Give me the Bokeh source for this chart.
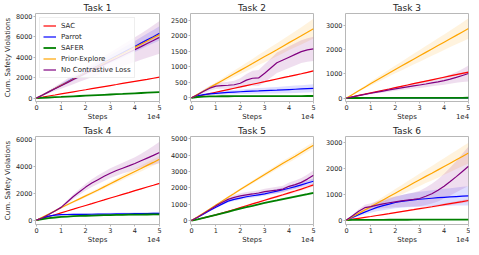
from bokeh.plotting import figure
from bokeh.layouts import row, column
from bokeh.models import FixedTicker, Legend, LegendItem, LinearAxis
from bokeh.embed import file_html
from bokeh.resources import INLINE

STEPS = [0, 2500, 5000, 7500, 10000, 12500, 15000, 17500, 20000, 22500, 25000,
         27500, 30000, 32500, 35000, 37500, 40000, 42500, 45000, 47500, 50000]
SERIES = ["SAC", "Parrot", "SAFER", "Prior-Explore", "No Contrastive Loss"]
COLORS = ["red", "blue", "green", "orange", "purple"]
TITLES = ["Task 1", "Task 2", "Task 3", "Task 4", "Task 5", "Task 6"]
X_TICKS = [0, 10000, 20000, 30000, 40000, 50000]
X_TICK_LABELS = ["0", "1", "2", "3", "4", "5"]
X_LABEL = "Steps"
X_OFFSET_TEXT = "1e4"
Y_LABEL = "Cum. Safety Violations"
Y_TICKS = [[0, 2000, 4000, 6000, 8000],
           [0, 500, 1000, 1500, 2000, 2500],
           [0, 1000, 2000, 3000],
           [0, 2000, 4000, 6000],
           [0, 1000, 2000, 3000, 4000, 5000],
           [0, 1000, 2000, 3000]]
Y_RANGES = [(-330, 8250), (-120, 2720), (-140, 3480), (-320, 6200), (-240, 5150), (-170, 3230)]

# ---- Task 1 ----
t1_sac = [0, 100, 205, 305, 410, 510, 612, 715, 815, 920, 1020, 1122, 1225, 1325, 1430, 1530, 1632, 1735, 1835, 1940, 2040]
t1_parrot = [0, 300, 620, 940, 1260, 1580, 1900, 2210, 2530, 2840, 3150, 3470, 3790, 4100, 4410, 4730, 5040, 5360, 5680, 5990, 6310]
t1_safer = [0, 30, 60, 90, 118, 148, 177, 206, 235, 265, 294, 322, 352, 381, 410, 440, 470, 500, 530, 560, 590]
t1_prior = [0, 310, 620, 930, 1240, 1550, 1860, 2170, 2480, 2790, 3100, 3410, 3720, 4030, 4330, 4640, 4950, 5260, 5570, 5880, 6190]
t1_nocl = [0, 300, 610, 910, 1210, 1510, 1810, 2110, 2410, 2700, 3000, 3290, 3580, 3870, 4150, 4440, 4730, 5020, 5320, 5620, 5920]
t1_sac_sd = [0, 5, 8, 10, 13, 15, 18, 20, 23, 25, 28, 30, 33, 35, 38, 40, 43, 45, 48, 50, 55]
t1_parrot_sd = [0, 30, 60, 95, 130, 160, 195, 230, 260, 295, 330, 365, 400, 430, 465, 500, 540, 575, 610, 650, 700]
t1_safer_sd = [0, 3, 5, 7, 9, 11, 13, 15, 17, 19, 21, 23, 25, 27, 29, 31, 33, 35, 37, 39, 40]
t1_prior_sd = [0, 12, 25, 37, 50, 62, 75, 87, 100, 112, 125, 137, 150, 162, 175, 187, 200, 212, 225, 237, 250]
t1_nocl_sd = [0, 70, 150, 220, 300, 370, 450, 520, 600, 670, 750, 820, 900, 970, 1050, 1120, 1200, 1280, 1380, 1480, 1600]

# ---- Task 2 ----
t2_sac = [0, 45, 90, 135, 178, 222, 265, 308, 350, 393, 436, 478, 520, 563, 606, 648, 690, 733, 776, 820, 870]
t2_parrot = [0, 60, 100, 125, 145, 160, 175, 185, 195, 205, 215, 222, 230, 238, 245, 255, 265, 275, 285, 295, 305]
t2_safer = [0, 25, 38, 44, 47, 49, 50, 51, 52, 52, 53, 53, 54, 54, 55, 55, 55, 56, 56, 57, 57]
t2_prior = [0, 110, 220, 330, 440, 550, 660, 775, 885, 995, 1105, 1220, 1330, 1440, 1550, 1665, 1780, 1890, 2000, 2115, 2230]
t2_nocl = [0, 100, 210, 310, 375, 395, 405, 420, 470, 570, 630, 640, 790, 960, 1130, 1220, 1310, 1400, 1490, 1545, 1580]
t2_sac_sd = [0, 3, 5, 7, 9, 11, 13, 14, 16, 17, 18, 19, 20, 21, 22, 23, 24, 25, 26, 28, 30]
t2_parrot_sd = [0, 20, 35, 45, 55, 60, 65, 70, 75, 80, 85, 90, 95, 100, 105, 110, 115, 118, 122, 126, 130]
t2_safer_sd = [0, 4, 6, 7, 8, 8, 9, 9, 9, 10, 10, 10, 10, 11, 11, 11, 11, 12, 12, 12, 12]
t2_prior_sd = [0, 15, 30, 45, 60, 75, 90, 105, 120, 135, 150, 165, 180, 195, 210, 225, 240, 260, 280, 300, 320]
t2_nocl_sd = [0, 30, 60, 80, 90, 100, 110, 130, 160, 200, 240, 260, 290, 310, 330, 340, 350, 360, 370, 380, 390]

# ---- Task 3 ----
t3_sac = [0, 55, 110, 162, 215, 268, 322, 375, 430, 485, 538, 592, 645, 698, 752, 805, 858, 912, 965, 1015, 1065]
t3_parrot = [0, 2, 3, 4, 5, 5, 6, 6, 7, 7, 8, 8, 9, 9, 10, 10, 10, 11, 11, 12, 12]
t3_safer = [0, 3, 5, 6, 7, 8, 8, 9, 9, 10, 10, 10, 11, 11, 12, 12, 12, 13, 13, 13, 14]
t3_prior = [0, 150, 300, 450, 600, 745, 890, 1035, 1180, 1320, 1460, 1600, 1740, 1880, 2020, 2160, 2300, 2440, 2580, 2720, 2860]
t3_nocl = [0, 50, 100, 150, 200, 245, 290, 335, 380, 420, 460, 500, 540, 580, 625, 670, 720, 780, 850, 930, 1010]
t3_sac_sd = [0, 3, 5, 8, 10, 12, 14, 16, 18, 20, 22, 24, 26, 28, 30, 32, 34, 36, 38, 40, 42]
t3_parrot_sd = [0, 1, 1, 1, 2, 2, 2, 2, 3, 3, 3, 3, 3, 4, 4, 4, 4, 4, 5, 5, 5]
t3_safer_sd = [0, 1, 1, 2, 2, 2, 2, 3, 3, 3, 3, 3, 4, 4, 4, 4, 4, 5, 5, 5, 5]
t3_prior_sd = [0, 20, 40, 60, 80, 100, 120, 140, 160, 180, 200, 220, 240, 260, 280, 300, 320, 340, 365, 390, 420]
t3_nocl_sd = [0, 10, 20, 30, 40, 50, 60, 70, 80, 90, 100, 110, 120, 130, 140, 155, 170, 190, 220, 270, 330]

# ---- Task 4 ----
t4_sac = [0, 135, 270, 405, 545, 680, 815, 955, 1090, 1225, 1365, 1500, 1640, 1775, 1910, 2045, 2185, 2320, 2455, 2590, 2730]
t4_parrot = [0, 170, 300, 370, 410, 420, 425, 430, 435, 440, 445, 450, 455, 460, 465, 470, 480, 485, 490, 500, 510]
t4_safer = [0, 80, 150, 200, 240, 270, 295, 315, 330, 345, 360, 370, 380, 390, 400, 405, 410, 415, 420, 425, 430]
t4_prior = [0, 230, 460, 690, 920, 1140, 1360, 1580, 1800, 2020, 2240, 2470, 2700, 2930, 3160, 3390, 3610, 3830, 4060, 4280, 4510]
t4_nocl = [0, 180, 420, 680, 950, 1350, 1750, 2100, 2450, 2750, 3000, 3250, 3480, 3680, 3850, 4020, 4200, 4400, 4600, 4800, 5020]
t4_sac_sd = [0, 3, 6, 9, 12, 15, 18, 20, 22, 24, 26, 28, 30, 32, 34, 36, 38, 40, 42, 44, 45]
t4_parrot_sd = [0, 20, 40, 55, 65, 70, 75, 80, 82, 85, 87, 90, 92, 95, 97, 100, 102, 105, 107, 110, 112]
t4_safer_sd = [0, 15, 25, 35, 40, 45, 50, 52, 55, 57, 60, 62, 65, 67, 70, 72, 74, 76, 78, 80, 82]
t4_prior_sd = [0, 15, 30, 45, 60, 72, 84, 96, 108, 120, 132, 144, 156, 168, 180, 192, 204, 216, 228, 240, 250]
t4_nocl_sd = [0, 20, 40, 60, 90, 130, 170, 210, 250, 290, 320, 340, 360, 380, 400, 430, 460, 520, 600, 700, 800]

# ---- Task 5 ----
t5_sac = [0, 80, 170, 260, 350, 460, 570, 680, 795, 910, 1020, 1130, 1245, 1360, 1470, 1580, 1695, 1810, 1930, 2060, 2185]
t5_parrot = [0, 200, 410, 620, 820, 1010, 1190, 1300, 1380, 1460, 1520, 1580, 1640, 1720, 1800, 1890, 1980, 2080, 2190, 2300, 2410]
t5_safer = [0, 80, 165, 255, 345, 440, 535, 635, 735, 820, 905, 995, 1080, 1160, 1235, 1315, 1390, 1465, 1540, 1615, 1695]
t5_prior = [0, 230, 470, 710, 950, 1190, 1430, 1660, 1900, 2130, 2360, 2590, 2820, 3050, 3280, 3510, 3720, 3940, 4170, 4400, 4620]
t5_nocl = [0, 210, 440, 670, 900, 1110, 1300, 1420, 1510, 1580, 1630, 1690, 1770, 1820, 1870, 1930, 2100, 2200, 2340, 2540, 2780]
t5_sac_sd = [0, 5, 10, 15, 20, 25, 30, 35, 40, 45, 50, 55, 60, 65, 70, 75, 80, 85, 90, 95, 100]
t5_parrot_sd = [0, 15, 30, 45, 60, 75, 90, 100, 105, 110, 115, 120, 125, 130, 135, 140, 145, 150, 155, 160, 165]
t5_safer_sd = [0, 5, 10, 15, 20, 24, 28, 32, 36, 40, 44, 48, 52, 56, 60, 63, 66, 69, 72, 75, 78]
t5_prior_sd = [0, 10, 20, 30, 40, 50, 60, 70, 80, 90, 100, 110, 120, 130, 140, 150, 160, 170, 180, 190, 200]
t5_nocl_sd = [0, 15, 30, 50, 70, 100, 130, 150, 160, 165, 170, 175, 180, 190, 200, 210, 230, 250, 270, 290, 310]

# ---- Task 6 ----
t6_sac = [0, 35, 70, 105, 140, 178, 215, 252, 290, 328, 365, 402, 440, 478, 515, 555, 595, 635, 675, 715, 756]
t6_parrot = [0, 100, 210, 310, 400, 490, 560, 620, 680, 720, 755, 780, 805, 825, 845, 865, 880, 895, 910, 925, 935]
t6_safer = [0, 5, 8, 10, 11, 12, 12, 13, 13, 14, 14, 15, 15, 16, 16, 17, 17, 18, 18, 19, 20]
t6_prior = [0, 130, 260, 390, 520, 650, 780, 910, 1040, 1170, 1300, 1430, 1560, 1690, 1810, 1940, 2070, 2200, 2330, 2460, 2590]
t6_nocl = [0, 170, 340, 480, 520, 580, 630, 670, 705, 740, 770, 800, 835, 920, 1020, 1150, 1310, 1490, 1680, 1880, 2080]
t6_sac_sd = [0, 3, 6, 9, 12, 15, 18, 21, 24, 27, 30, 33, 36, 39, 42, 45, 48, 51, 54, 57, 60]
t6_parrot_sd = [0, 30, 60, 90, 120, 150, 180, 200, 220, 240, 260, 275, 290, 300, 310, 320, 330, 340, 350, 360, 370]
t6_safer_sd = [0, 2, 3, 3, 4, 4, 4, 5, 5, 5, 5, 5, 6, 6, 6, 6, 6, 7, 7, 7, 7]
t6_prior_sd = [0, 20, 40, 60, 80, 100, 120, 140, 160, 180, 200, 220, 240, 260, 280, 300, 320, 340, 360, 380, 400]
t6_nocl_sd = [0, 40, 80, 110, 130, 150, 170, 190, 210, 230, 250, 270, 300, 340, 380, 430, 480, 540, 600, 680, 760]

TASK_MEANS = [
    [t1_sac, t1_parrot, t1_safer, t1_prior, t1_nocl],
    [t2_sac, t2_parrot, t2_safer, t2_prior, t2_nocl],
    [t3_sac, t3_parrot, t3_safer, t3_prior, t3_nocl],
    [t4_sac, t4_parrot, t4_safer, t4_prior, t4_nocl],
    [t5_sac, t5_parrot, t5_safer, t5_prior, t5_nocl],
    [t6_sac, t6_parrot, t6_safer, t6_prior, t6_nocl],
]
TASK_SDS = [
    [t1_sac_sd, t1_parrot_sd, t1_safer_sd, t1_prior_sd, t1_nocl_sd],
    [t2_sac_sd, t2_parrot_sd, t2_safer_sd, t2_prior_sd, t2_nocl_sd],
    [t3_sac_sd, t3_parrot_sd, t3_safer_sd, t3_prior_sd, t3_nocl_sd],
    [t4_sac_sd, t4_parrot_sd, t4_safer_sd, t4_prior_sd, t4_nocl_sd],
    [t5_sac_sd, t5_parrot_sd, t5_safer_sd, t5_prior_sd, t5_nocl_sd],
    [t6_sac_sd, t6_parrot_sd, t6_safer_sd, t6_prior_sd, t6_nocl_sd],
]

FONT = "DejaVu Sans"
TEXT_COLOR = "#262626"
SPINE = "#b8b8b8"

# left border, frame width, right border per column
COLS = [(28, 124, 4), (27, 123, 5), (27, 123, 2)]


def style_axis(ax):
    ax.axis_line_color = None
    ax.major_tick_line_color = SPINE
    ax.major_tick_in = 0
    ax.major_tick_out = 2
    ax.minor_tick_line_color = None
    ax.major_label_text_font = FONT
    ax.major_label_text_font_size = "6.5px"
    ax.major_label_text_color = TEXT_COLOR
    ax.major_label_standoff = 1
    ax.axis_label_text_font = FONT
    ax.axis_label_text_font_size = "7px"
    ax.axis_label_text_font_style = "normal"
    ax.axis_label_text_color = TEXT_COLOR
    ax.axis_label_standoff = 1


def make(i):
    col = i % 3
    lb, fw, rb = COLS[col]
    p = figure(frame_width=fw, frame_height=88,
               x_range=(-400, 50000), y_range=Y_RANGES[i],
               output_backend="svg", toolbar_location=None,
               min_border_left=lb, min_border_right=rb,
               min_border_top=11, min_border_bottom=20,
               title=TITLES[i])
    p.title.text_font = FONT
    p.title.text_font_size = "9px"
    p.title.text_font_style = "normal"
    p.title.text_color = TEXT_COLOR
    p.title.align = "center"
    p.title.standoff = 1
    p.grid.visible = False
    p.outline_line_color = SPINE
    p.outline_line_width = 1
    p.background_fill_color = "white"

    style_axis(p.xaxis[0])
    style_axis(p.yaxis[0])
    p.xaxis.ticker = FixedTicker(ticks=X_TICKS)
    p.xaxis.major_label_overrides = dict(zip(X_TICKS, X_TICK_LABELS))
    p.yaxis.ticker = FixedTicker(ticks=Y_TICKS[i])
    if col == 0:
        p.yaxis.axis_label = Y_LABEL

    # second, tickless axis carrying the "Steps" label and the "1e4" offset text on one line
    span = 50000 - (-400)
    pos_label = (50000 + (-400)) / 2
    pos_offset = 50000 - span * 6.0 / fw
    lab_axis = LinearAxis(ticker=FixedTicker(ticks=[pos_label, pos_offset]),
                          major_label_overrides={pos_label: X_LABEL, pos_offset: X_OFFSET_TEXT})
    style_axis(lab_axis)
    lab_axis.major_tick_line_color = None
    lab_axis.major_tick_out = 0
    lab_axis.major_label_standoff = 0
    lab_axis.major_label_text_font_size = "7px"
    p.add_layout(lab_axis, "below")

    means = TASK_MEANS[i]
    sds = TASK_SDS[i]
    for m, s, c in zip(means, sds, COLORS):
        lo = [a - b for a, b in zip(m, s)]
        hi = [a + b for a, b in zip(m, s)]
        p.varea(x=STEPS, y1=lo, y2=hi, fill_color=c, fill_alpha=0.13)
    lines = []
    for k, (m, c) in enumerate(zip(means, COLORS)):
        lw = 1.8 if SERIES[k] == "SAFER" else 1.2
        r = p.line(STEPS, m, line_color=c, line_width=lw)
        lines.append(r)

    if i == 0:
        legend = Legend(items=[LegendItem(label=n, renderers=[r]) for n, r in zip(SERIES, lines)],
                        location="top_left")
        legend.label_text_font = FONT
        legend.label_text_font_size = "7px"
        legend.label_text_color = TEXT_COLOR
        legend.label_height = 9
        legend.glyph_height = 9
        legend.glyph_width = 13
        legend.label_standoff = 5
        legend.spacing = 2
        legend.padding = 3
        legend.margin = 4
        legend.border_line_color = "#dddddd"
        legend.background_fill_alpha = 0.85
        p.add_layout(legend)
    return p


figs = [make(i) for i in range(6)]
layout = column(row(*figs[:3], spacing=0), row(*figs[3:], spacing=0), spacing=0)
open("out.html", "w").write(file_html(layout, INLINE))
